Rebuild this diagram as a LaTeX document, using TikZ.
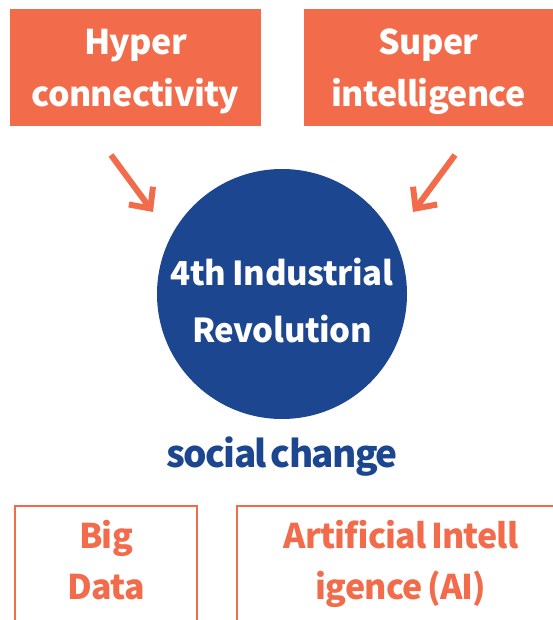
\documentclass[tikz,border=0pt]{standalone}
\usepackage{fontspec}
\setmainfont{Noto Sans CJK KR}
\newfontfamily\tightfont{Noto Sans CJK KR}[LetterSpace=-2,WordSpace=0.7]
\newfontfamily\roundfont{Noto Sans CJK KR}[LetterSpace=-1.3,WordSpace=0.85]
\newfontfamily\heavyfont{Noto Sans CJK KR Black}[LetterSpace=-2.4,WordSpace=0.65]
\newfontfamily\changefont{Noto Sans CJK KR Black}[LetterSpace=-4.5,WordSpace=0.55]
\usetikzlibrary{arrows.meta}
\definecolor{techorange}{HTML}{F26B4A}
\definecolor{techblue}{HTML}{1C4790}

\begin{document}
\begin{tikzpicture}[x=1pt,y=-1pt,
  topbox/.style={fill=techorange,text=white,align=center,inner sep=0pt,text depth=0pt,
    minimum height=117pt,font=\tightfont\fontsize{34}{52}\selectfont\bfseries},
  btmbox/.style={draw=techorange,line width=2pt,text=techorange,align=center,
    anchor=north,inner ysep=14pt,text depth=60pt,font=\heavyfont\fontsize{34}{51}\selectfont},
  toward/.style={techorange,line width=6pt,-{Straight Barb[length=16pt,width=30pt]}}]
\useasboundingbox (0,0) rectangle (553,620);

\node[topbox,minimum width=251pt] (hyper) at (135.5,67.5) {Hyper\\connectivity};
\node[topbox,minimum width=249pt] (super) at (428.5,67.5) {Super\\intelligence};

\node[circle,fill=techblue,text=white,align=center,minimum size=250pt,inner sep=0pt,text depth=0pt,
  font=\roundfont\fontsize{33}{57}\selectfont\bfseries] (revolution) at (282,294)
  {\rule{0pt}{40pt}4th Industrial\\Revolution};
\node[text=techblue,anchor=base,inner sep=0pt,font=\changefont\fontsize{37}{40}\selectfont] (change) at (282,467) {social change};

\coordinate (hyperfrom) at (111,155);
\coordinate (hyperto) at (153,212);
\coordinate (superfrom) at (455,155);
\coordinate (superto) at (413,212);
\draw[toward] (hyperfrom) -- (hyperto);
\draw[toward] (superfrom) -- (superto);

\node[btmbox,minimum width=182pt] (bigdata) at (106,505) {Big\\Data};
\node[btmbox,minimum width=328pt] (ai) at (401,505) {Artificial Intell\\igence (AI)};
\end{tikzpicture}
\end{document}
